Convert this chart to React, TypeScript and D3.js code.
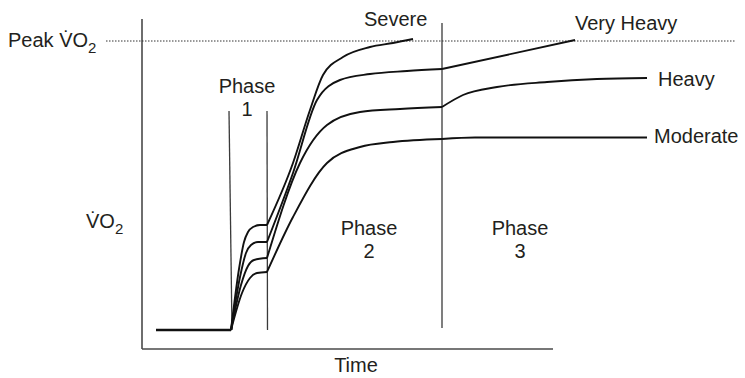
import React from "react";
import * as d3 from "d3";

// Time (arbitrary units) and VO2 (arbitrary units)
const seriesNames = ["Severe", "Very Heavy", "Heavy", "Moderate"];

const baselineT = [14, 89];
const baselineV = [19, 19];

const severePhase1: [number, number][] = [[89, 19], [97, 80], [102, 107], [106, 117], [111, 122], [118, 124], [125, 124]];
const severePhase2: [number, number][] = [[125, 124], [151, 186], [168, 239], [181, 274], [201, 292], [228, 302], [251, 306], [271, 310]];
const severePhase3: [number, number][] = [];

const veryHeavyPhase1: [number, number][] = [[89, 19], [98, 72], [104, 96], [109, 104], [116, 107], [125, 107]];
const veryHeavyPhase2: [number, number][] = [[125, 107], [151, 176], [175, 249], [198, 269], [228, 275], [265, 278], [300, 280]];
const veryHeavyPhase3: [number, number][] = [[300, 280], [433, 309]];

const heavyPhase1: [number, number][] = [[89, 19], [99, 64], [106, 83], [112, 89], [125, 91]];
const heavyPhase2: [number, number][] = [[125, 91], [158, 186], [185, 224], [218, 237], [258, 240], [300, 242]];
const heavyPhase3: [number, number][] = [[300, 242], [321, 254], [355, 262], [405, 267], [455, 270], [505, 271]];

const moderatePhase1: [number, number][] = [[89, 19], [100, 56], [108, 71], [115, 76], [125, 77]];
const moderatePhase2: [number, number][] = [[125, 77], [151, 132], [185, 186], [218, 202], [251, 207], [300, 210]];
const moderatePhase3: [number, number][] = [[300, 210], [333, 211.5], [505, 211.5]];

const peakVO2 = 308;
const phaseLabels = ["Phase\n1", "Phase\n2", "Phase\n3"];

const FONT = "'Liberation Sans', Arial, Helvetica, sans-serif";

export default function App() {
  const W = 745;
  const H = 378;
  const x = d3.scaleLinear().domain([0, 411]).range([142, 553]);
  const y = d3.scaleLinear().domain([0, 330]).range([349, 19]);

  const seg = d3
    .line<[number, number]>()
    .x((d) => x(d[0]))
    .y((d) => y(d[1]))
    .curve(d3.curveMonotoneX);

  const allSegs = [
    severePhase1, severePhase2, severePhase3,
    veryHeavyPhase1, veryHeavyPhase2, veryHeavyPhase3,
    heavyPhase1, heavyPhase2, heavyPhase3,
    moderatePhase1, moderatePhase2, moderatePhase3,
  ].filter((s) => s.length > 1);

  const baseline: [number, number][] = baselineT.map((t, i) => [t, baselineV[i]]);

  const txt = { fontFamily: FONT, fontSize: 20, fill: "#231f20" } as const;
  const lineCol = "#3a3a3a";

  const phaseTexts = phaseLabels.map((s) => s.split("\n"));
  const phaseCenters = [247, 369, 520];
  const phaseBase = [93, 235, 235];

  return (
    <svg
      width={W}
      height={H}
      style={{ position: "absolute", left: 0, top: 0, background: "#fff" }}
    >
      {/* axes */}
      <line x1={x(0)} x2={x(0)} y1={y(0)} y2={y(330)} stroke="#4a4a4a" strokeWidth={1.6} />
      <line x1={x(0)} x2={x(411)} y1={y(0)} y2={y(0)} stroke="#4a4a4a" strokeWidth={1.6} />

      {/* peak dotted line */}
      <line
        x1={x(-36)}
        x2={x(593)}
        y1={y(peakVO2)}
        y2={y(peakVO2)}
        stroke="#333"
        strokeWidth={1}
        strokeDasharray="1.5,1.5"
      />

      {/* phase boundaries */}
      <line x1={x(87)} x2={x(90)} y1={y(238)} y2={y(19)} stroke={lineCol} strokeWidth={1.3} />
      <line x1={x(125)} x2={x(125.5)} y1={y(238)} y2={y(19)} stroke={lineCol} strokeWidth={1.3} />
      <line x1={x(300)} x2={x(300)} y1={y(326)} y2={y(21)} stroke={lineCol} strokeWidth={1.3} />

      {/* curves */}
      <path d={seg(baseline) || ""} fill="none" stroke="#111" strokeWidth={2.4} />
      {allSegs.map((s, i) => (
        <path key={i} d={seg(s) || ""} fill="none" stroke="#111" strokeWidth={1.9} strokeLinejoin="round" />
      ))}

      {/* labels */}
      <text x={8} y={47} {...txt}>
        Peak V{"\u0307"}O<tspan fontSize={15} dy={6}>2</tspan>
      </text>
      <text x={86} y={228} {...txt}>
        V{"\u0307"}O<tspan fontSize={15} dy={6}>2</tspan>
      </text>

      {phaseTexts.map((lines, i) => (
        <g key={i}>
          <text x={phaseCenters[i]} y={phaseBase[i]} textAnchor="middle" {...txt}>{lines[0]}</text>
          <text x={phaseCenters[i]} y={phaseBase[i] + 23} textAnchor="middle" {...txt}>{lines[1]}</text>
        </g>
      ))}

      <text x={364} y={26} {...txt}>{seriesNames[0]}</text>
      <text x={575} y={30} {...txt}>{seriesNames[1]}</text>
      <text x={658} y={86} {...txt}>{seriesNames[2]}</text>
      <text x={654} y={143} {...txt}>{seriesNames[3]}</text>

      <text x={356} y={372} textAnchor="middle" {...txt}>Time</text>
    </svg>
  );
}
